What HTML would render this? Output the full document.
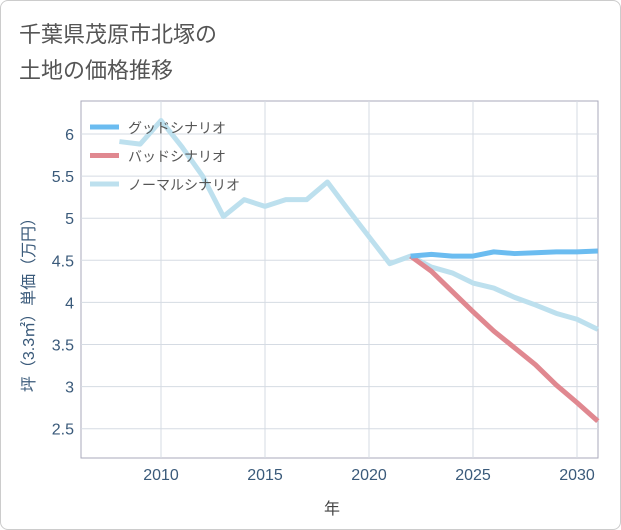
<!DOCTYPE html>
<html><head><meta charset="utf-8"><style>
body{margin:0;background:#fff;font-family:"Liberation Sans","Noto Sans CJK JP",sans-serif;}
#wrap{position:relative;width:619px;height:528px;border:1px solid #ccc;border-radius:8px;overflow:hidden;}
</style></head><body>
<div id="wrap">
<svg id="chart" width="619" height="528" xmlns="http://www.w3.org/2000/svg">
<text x="18" y="41" font-size="22" fill="#555" font-family="Liberation Sans, Noto Sans CJK JP, sans-serif">千葉県茂原市北塚の</text>
<text x="18" y="77" font-size="22" fill="#555" font-family="Liberation Sans, Noto Sans CJK JP, sans-serif">土地の価格推移</text>
<g id="grid"></g><g id="series"></g><g id="legend"></g>
<text x="331" y="513" font-size="16" fill="#444" text-anchor="middle" font-family="Liberation Sans, Noto Sans CJK JP, sans-serif">年</text>
<text transform="translate(33,300) rotate(-90)" font-size="16" fill="#3a5a7a" text-anchor="middle" font-family="Liberation Sans, Noto Sans CJK JP, sans-serif">坪（3.3㎡）単価（万円）</text>
</svg>
</div>
<script>
const years=[2008,2009,2010,2011,2012,2013,2014,2015,2016,2017,2018,2019,2020,2021,2022,2023,2024,2025,2026,2027,2028,2029,2030,2031];
const normal=[5.91,5.88,6.16,5.85,5.5,5.02,5.22,5.14,5.22,5.22,5.43,5.1,4.78,4.46,4.55,4.42,4.35,4.23,4.17,4.06,3.97,3.87,3.8,3.68];
const goodYears=[2022,2023,2024,2025,2026,2027,2028,2029,2030,2031];
const good=[4.55,4.57,4.55,4.55,4.6,4.58,4.59,4.6,4.6,4.61];
const bad=[4.55,4.37,4.13,3.89,3.66,3.46,3.26,3.02,2.81,2.59];
const xTicks=[2010,2015,2020,2025,2030];
const yTicks=[2.5,3,3.5,4,4.5,5,5.5,6];
const L=80,R=597,T=100,B=457;
const x=v=>160+(v-2010)*20.8;
const y=v=>133+(6-v)*84.2;
const NS="http://www.w3.org/2000/svg";
function mk(tag,attrs,parent){const e=document.createElementNS(NS,tag);for(const k in attrs)e.setAttribute(k,attrs[k]);parent.appendChild(e);return e;}
const grid=document.getElementById('grid');
const frame=mk('rect',{x:L,y:T,width:R-L,height:B-T,fill:'none',stroke:'#aab',"stroke-width":1},grid);


xTicks.forEach(t=>{
 const l=mk('line',{x1:x(t),x2:x(t),y1:T,y2:B,stroke:'#d5dbe3'},grid);
 
 
 const tx=mk('text',{x:x(t),y:479,"font-size":16,fill:'#3a5a7a',"text-anchor":"middle"},grid);tx.textContent=t;
 
 
});
yTicks.forEach(t=>{
 const l=mk('line',{x1:L,x2:R,y1:y(t),y2:y(t),stroke:'#d5dbe3'},grid);
 
 
 const tx=mk('text',{x:73,y:y(t)+6,"font-size":16,fill:'#3a5a7a',"text-anchor":"end"},grid);tx.textContent=t;
 
 
});
const ser=document.getElementById('series');
function line(xs,vs,color,name){
 const p=mk('polyline',{points:xs.map((v,i)=>x(v)+','+y(vs[i])).join(' '),fill:'none',stroke:color,"stroke-width":5,"stroke-linejoin":"round"},ser);
 
 
}
line(years,normal,'#bde0ee','normal-scenario-line');
line(goodYears,bad,'#e08890','bad-scenario-line');
line(goodYears,good,'#6bbcf0','good-scenario-line');
const lg=document.getElementById('legend');
[['グッドシナリオ','#6bbcf0'],['バッドシナリオ','#e08890'],['ノーマルシナリオ','#bde0ee']].forEach((d,i)=>{
 const yy=126+i*28.5;
 const g=mk('g',{},lg);
 
 
 mk('line',{x1:89,x2:118,y1:yy,y2:yy,stroke:d[1],"stroke-width":5},g);
 const t=mk('text',{x:127,y:yy+6,"font-size":14,fill:'#555'},g);t.textContent=d[0];
});
</script>
</body></html>
